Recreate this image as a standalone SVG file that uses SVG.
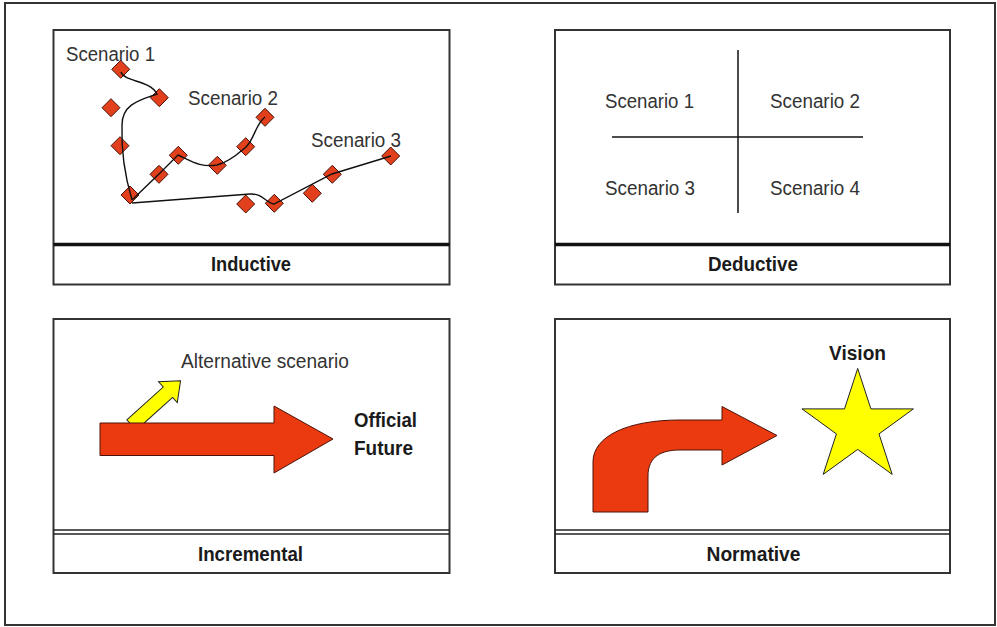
<svg xmlns="http://www.w3.org/2000/svg" width="997" height="627" viewBox="0 0 997 627">
<style>
.frame{fill:#fff;stroke:#333;stroke-width:2}
.sep{stroke:#222;stroke-width:1.5;fill:none}
.thick{stroke:#111;stroke-width:3.5;fill:none}
.t{font-family:"Liberation Sans",Arial,sans-serif;font-size:20px;fill:#333}
.b{font-family:"Liberation Sans",Arial,sans-serif;font-size:20px;font-weight:bold;fill:#1a1a1a}
.dia{fill:#e2401c;stroke:#4a1208;stroke-width:1}
.path{fill:none;stroke:#111;stroke-width:1.4}
.red{fill:#ec3a10;stroke:#4a1208;stroke-width:1}
.yel{fill:#ffff00;stroke:#222;stroke-width:1}
</style>
<defs>
<path id="d" class="dia" d="M0,-9 L9,0 L0,9 L-9,0 Z"/>
</defs>
<rect x="0" y="0" width="997" height="627" fill="#fff"/>
<rect x="5" y="3" width="990" height="622" fill="#fff" stroke="#333" stroke-width="2"/>

<g id="inductive">
<rect class="frame" x="53.5" y="30" width="396" height="254.5"/>
<line class="thick" x1="53.5" y1="244.5" x2="449.5" y2="244.5"/>
<text class="b" x="211" y="271" textLength="80" lengthAdjust="spacingAndGlyphs">Inductive</text>
<text class="t" x="66" y="61" textLength="89" lengthAdjust="spacingAndGlyphs">Scenario 1</text>
<text class="t" x="188" y="105" textLength="90" lengthAdjust="spacingAndGlyphs">Scenario 2</text>
<text class="t" x="311" y="147" textLength="90" lengthAdjust="spacingAndGlyphs">Scenario 3</text>
<use href="#d" x="120.7" y="69.3"/>
<use href="#d" x="159.3" y="97.7"/>
<use href="#d" x="111" y="107.7"/>
<use href="#d" x="265" y="117.3"/>
<use href="#d" x="120" y="145.7"/>
<use href="#d" x="245.7" y="146.7"/>
<use href="#d" x="178.3" y="155.3"/>
<use href="#d" x="217.3" y="165.3"/>
<use href="#d" x="390.7" y="156"/>
<use href="#d" x="159" y="174.3"/>
<use href="#d" x="332.3" y="174.3"/>
<use href="#d" x="130" y="195"/>
<use href="#d" x="312.3" y="193.3"/>
<use href="#d" x="245.7" y="204"/>
<use href="#d" x="274.3" y="203.3"/>
</g>

<g id="connectors">
<path class="path" d="M121,72 C124,82 150,80 157,94 C140,100 122,104 122,125 C121,155 126,180 132,200"/>
<path class="path" d="M132,200 L159,174 L178,155 C190,160 200,168 217,165 C230,162 240,152 246,147 C255,138 255,125 265,117"/>
<path class="path" d="M132,203 L250,194 C262,193 266,203 274,204 L332,174 L391,156"/>
</g>

<g id="deductive">
<rect class="frame" x="555" y="30" width="395" height="254.5"/>
<line class="thick" x1="555" y1="244.5" x2="950" y2="244.5"/>
<text class="b" x="708" y="271" textLength="90" lengthAdjust="spacingAndGlyphs">Deductive</text>
<line x1="738" y1="50" x2="738" y2="213" stroke="#111" stroke-width="1.5"/>
<line x1="612" y1="137" x2="863" y2="137" stroke="#111" stroke-width="1.5"/>
<text class="t" x="605" y="108" textLength="89" lengthAdjust="spacingAndGlyphs">Scenario 1</text>
<text class="t" x="770" y="108" textLength="90" lengthAdjust="spacingAndGlyphs">Scenario 2</text>
<text class="t" x="605" y="195" textLength="90" lengthAdjust="spacingAndGlyphs">Scenario 3</text>
<text class="t" x="770" y="195" textLength="90" lengthAdjust="spacingAndGlyphs">Scenario 4</text>
</g>

<g id="incremental">
<rect class="frame" x="53.5" y="319" width="396" height="254"/>
<line class="sep" x1="53.5" y1="530" x2="449.5" y2="530"/>
<line class="sep" x1="53.5" y1="534" x2="449.5" y2="534"/>
<text class="b" x="198" y="561" textLength="105" lengthAdjust="spacingAndGlyphs">Incremental</text>
<text class="t" x="181" y="368" textLength="168" lengthAdjust="spacingAndGlyphs">Alternative scenario</text>
<path class="yel" transform="translate(131.5,425) rotate(-42)" d="M0,-7 L49,-7 L49,-14 L66,0 L49,14 L49,7 L0,7 Z"/>
<path class="red" d="M100,423 L274,423 L274,406 L333,439 L274,473 L274,455.5 L100,455.5 Z"/>
<text class="b" x="354" y="427" textLength="63" lengthAdjust="spacingAndGlyphs">Official</text>
<text class="b" x="354" y="455" textLength="59" lengthAdjust="spacingAndGlyphs">Future</text>
</g>

<g id="normative">
<rect class="frame" x="555" y="319" width="395" height="254"/>
<line class="sep" x1="555" y1="530" x2="950" y2="530"/>
<line class="sep" x1="555" y1="534" x2="950" y2="534"/>
<text class="b" x="706.5" y="561" textLength="94" lengthAdjust="spacingAndGlyphs">Normative</text>
<path class="red" d="M593,512 L593,462 C593,436 628,420 680,420 L722,420 L722,406.5 L777,435.5 L722,465 L722,450 L680,450 C662,450 648,456 648,476 L648,512 Z"/>
<polygon class="yel" points="857.7,368.4 870.9,408.9 913.4,408.9 879,433.9 892.2,474.4 857.7,449.4 823.2,474.4 836.4,433.9 802,408.9 844.5,408.9"/>
<text class="b" x="829" y="360" textLength="57" lengthAdjust="spacingAndGlyphs">Vision</text>
</g>
</svg>
